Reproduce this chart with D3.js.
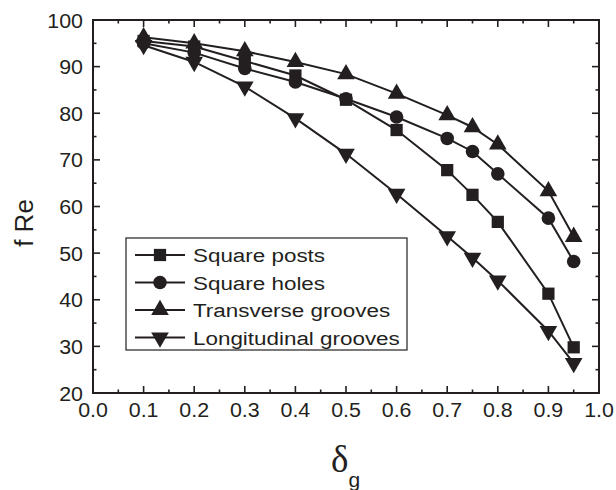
<!DOCTYPE html>
<meta charset="utf-8">
<style>
html, body { margin: 0; padding: 0; background: #fff; }
svg text { font-family: "Liberation Sans", Arial, sans-serif; fill: #231f20; }
</style>
<body>
<script src="https://d3js.org/d3.v7.min.js"></script>
<script>

var width = 616,
    height = 490;

var margin = {top: 20, right: 17, bottom: 97, left: 93};

// data
var delta = [0.1, 0.2, 0.3, 0.4, 0.5, 0.6, 0.7, 0.75, 0.8, 0.9, 0.95];
var squarePosts   = [95.5, 94.3, 91.2, 88.1, 82.9, 76.4, 67.8, 62.5, 56.7, 41.3, 29.8];
var squareHoles   = [95.0, 93.0, 89.6, 86.7, 83.1, 79.2, 74.6, 71.8, 67.0, 57.5, 48.2];
var transverse    = [96.3, 95.0, 93.3, 91.0, 88.4, 84.2, 79.6, 77.0, 73.3, 63.3, 53.5];
var longitudinal  = [94.6, 91.0, 85.7, 78.9, 71.3, 62.7, 53.6, 49.0, 44.1, 33.3, 26.4];
var seriesNames   = ["Square posts", "Square holes", "Transverse grooves", "Longitudinal grooves"];
var xTicks = [0.0, 0.1, 0.2, 0.3, 0.4, 0.5, 0.6, 0.7, 0.8, 0.9, 1.0];
var yTicks = [20, 30, 40, 50, 60, 70, 80, 90, 100];

var ink = "#231f20";

var series = [
  {name: seriesNames[0], values: squarePosts,  symbol: d3.symbolSquare,   size: 150, rot: 0},
  {name: seriesNames[1], values: squareHoles,  symbol: d3.symbolCircle,   size: 145, rot: 0},
  {name: seriesNames[2], values: transverse,   symbol: d3.symbolTriangle, size: 135, rot: 0},
  {name: seriesNames[3], values: longitudinal, symbol: d3.symbolTriangle, size: 135, rot: 180}
];

var svg = d3.select("body").append("svg")
  .attr("width", width)
  .attr("height", height);

var iw = width - margin.left - margin.right,
    ih = height - margin.top - margin.bottom;

var x = d3.scaleLinear().domain([0, 1]).range([0, iw]);
var y = d3.scaleLinear().domain([20, 100]).range([ih, 0]);

var g = svg.append("g").attr("transform", "translate(" + margin.left + "," + margin.top + ")");

// ticks (inward) on all four sides
var xMinor = d3.range(0.05, 1, 0.1);
var yMinor = d3.range(25, 100, 10);

function tickLines(cls, data, fn) {
  g.append("g").attr("class", cls).selectAll("line")
    .data(data).enter().append("line")
    .attr("stroke", ink).attr("stroke-width", 1.6)
    .each(fn);
}
tickLines("xb", xTicks, function(d){ d3.select(this).attr("x1", x(d)).attr("x2", x(d)).attr("y1", ih).attr("y2", ih - 7); });
tickLines("xbm", xMinor, function(d){ d3.select(this).attr("x1", x(d)).attr("x2", x(d)).attr("y1", ih).attr("y2", ih - 3.5); });
tickLines("xt", xTicks, function(d){ d3.select(this).attr("x1", x(d)).attr("x2", x(d)).attr("y1", 0).attr("y2", 7); });
tickLines("xtm", xMinor, function(d){ d3.select(this).attr("x1", x(d)).attr("x2", x(d)).attr("y1", 0).attr("y2", 3.5); });
tickLines("yl", yTicks, function(d){ d3.select(this).attr("y1", y(d)).attr("y2", y(d)).attr("x1", 0).attr("x2", 7); });
tickLines("ylm", yMinor, function(d){ d3.select(this).attr("y1", y(d)).attr("y2", y(d)).attr("x1", 0).attr("x2", 3.5); });
tickLines("yr", yTicks, function(d){ d3.select(this).attr("y1", y(d)).attr("y2", y(d)).attr("x1", iw).attr("x2", iw - 7); });
tickLines("yrm", yMinor, function(d){ d3.select(this).attr("y1", y(d)).attr("y2", y(d)).attr("x1", iw).attr("x2", iw - 3.5); });

// frame
g.append("rect")
  .attr("width", iw).attr("height", ih)
  .attr("fill", "none").attr("stroke", ink).attr("stroke-width", 2);

// tick labels (the original font is a little wide, so stretch it)
g.append("g").selectAll("text")
  .data(xTicks).enter().append("text")
  .attr("transform", function(d){ return "translate(" + x(d) + "," + (ih + 24) + ") scale(1.07,1)"; })
  .attr("text-anchor", "middle")
  .style("font-size", "20px")
  .text(function(d){ return d3.format(".1f")(d); });

g.append("g").selectAll("text")
  .data(yTicks).enter().append("text")
  .attr("transform", function(d){ return "translate(-10," + (y(d) + 7.5) + ") scale(1.07,1)"; })
  .attr("text-anchor", "end")
  .style("font-size", "20px")
  .text(function(d){ return d; });

// axis titles
svg.append("text")
  .attr("transform", "translate(33,223) rotate(-90)")
  .attr("text-anchor", "middle")
  .style("font-size", "26px")
  .text("f Re");

var xt = svg.append("text")
  .attr("x", 331)
  .attr("y", 472)
  .style("font-family", "'Liberation Serif', 'Times New Roman', serif")
  .style("font-size", "37px");
xt.append("tspan").text("δ");
xt.append("tspan").attr("dy", 15).style("font-family", "'Liberation Sans', Arial, sans-serif").style("font-size", "21px").text("g");

// lines and markers
var line = d3.line()
  .x(function(d, i){ return x(delta[i]); })
  .y(function(d){ return y(d); });

series.forEach(function(s) {
  g.append("path")
    .datum(s.values)
    .attr("fill", "none")
    .attr("stroke", ink)
    .attr("stroke-width", 2)
    .attr("d", line);
});

series.forEach(function(s) {
  var sym = d3.symbol().type(s.symbol).size(s.size);
  g.append("g").selectAll("path")
    .data(s.values).enter().append("path")
    .attr("d", sym)
    .attr("fill", ink)
    .attr("transform", function(d, i){
      return "translate(" + x(delta[i]) + "," + y(d) + ") rotate(" + s.rot + ")";
    });
});

// legend
var lg = svg.append("g").attr("transform", "translate(126,238)");
lg.append("rect")
  .attr("width", 281).attr("height", 112)
  .attr("fill", "#fff").attr("stroke", ink).attr("stroke-width", 1.2);

series.forEach(function(s, i) {
  var row = lg.append("g").attr("transform", "translate(0," + (17 + i * 27.5) + ")");
  row.append("line")
    .attr("x1", 9).attr("x2", 59)
    .attr("stroke", ink).attr("stroke-width", 2);
  row.append("path")
    .attr("d", d3.symbol().type(s.symbol).size(s.size)())
    .attr("fill", ink)
    .attr("transform", "translate(34,0) rotate(" + s.rot + ")");
  row.append("text")
    .attr("transform", "translate(67,7) scale(1.18,1)")
    .style("font-size", "19px")
    .text(s.name);
});

</script>
</body>
